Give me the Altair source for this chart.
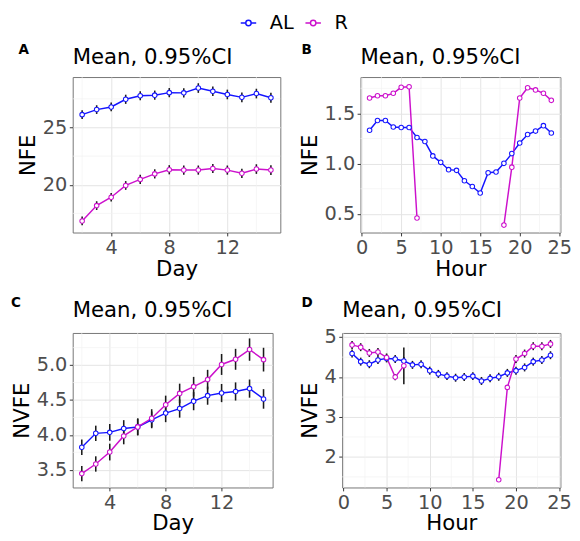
import altair as alt
import pandas as pd

FONT = "DejaVu Sans"
series_names = ["AL", "R"]
series_colors = ["#1414ff", "#cc11cc"]
letters = ["A", "B", "C", "D"]
panel_title = "Mean, 0.95%CI"

day = [2, 3, 4, 5, 6, 7, 8, 9, 10, 11, 12, 13, 14, 15]
hour = list(range(1, 25))

# Panel A: NFE by Day
a_al = [26.12, 26.56, 26.79, 27.46, 27.77, 27.82, 28.04, 28.02, 28.44, 28.16, 27.88, 27.63, 27.96, 27.60]
a_al_ci = [0.38, 0.38, 0.38, 0.40, 0.40, 0.40, 0.40, 0.40, 0.42, 0.42, 0.42, 0.42, 0.42, 0.44]
a_r = [16.84, 18.18, 18.91, 19.94, 20.47, 20.95, 21.31, 21.28, 21.28, 21.42, 21.28, 21.00, 21.37, 21.28]
a_r_ci = [0.38, 0.38, 0.38, 0.38, 0.40, 0.40, 0.40, 0.40, 0.40, 0.40, 0.40, 0.40, 0.42, 0.42]

# Panel B: NFE by Hour
b_al = [1.333, 1.430, 1.430, 1.365, 1.360, 1.360, 1.260, 1.220, 1.077, 1.013, 0.940, 0.933,
        0.830, 0.772, 0.708, 0.910, 0.917, 1.003, 1.100, 1.205, 1.290, 1.324, 1.378, 1.305]
b_al_ci = [0.015] * 24
b_r = [1.654, 1.676, 1.676, 1.700, 1.760, 1.766, 0.458, None, None, None, None, None,
       None, None, None, None, None, 0.388, 0.965, 1.654, 1.756, 1.734, 1.700, 1.630]
b_r_ci = [0.015] * 24

# Panel C: NVFE by Day
c_al = [3.823, 4.022, 4.036, 4.091, 4.114, 4.215, 4.312, 4.377, 4.483, 4.562, 4.599, 4.622, 4.663, 4.515]
c_al_ci = [0.11, 0.11, 0.12, 0.12, 0.12, 0.12, 0.13, 0.13, 0.13, 0.13, 0.13, 0.13, 0.13, 0.14]
c_r = [3.445, 3.583, 3.754, 3.985, 4.114, 4.238, 4.432, 4.594, 4.691, 4.792, 5.009, 5.083, 5.222, 5.078]
c_r_ci = [0.11, 0.11, 0.12, 0.12, 0.12, 0.13, 0.13, 0.14, 0.14, 0.14, 0.15, 0.15, 0.16, 0.17]

# Panel D: NVFE by Hour
d_al = [4.589, 4.387, 4.323, 4.427, 4.468, 4.452, 4.403, 4.306, 4.323, 4.161, 4.080, 4.024,
        3.984, 4.000, 4.024, 3.903, 3.968, 4.008, 4.105, 4.161, 4.242, 4.387, 4.427, 4.548]
d_al_ci = [0.10] * 24
d_r = [4.806, 4.750, 4.605, 4.629, 4.492, 4.000, 4.282, None, None, None, None, None,
       None, None, None, None, None, 1.427, 3.742, 4.452, 4.589, 4.774, 4.774, 4.831]
d_r_ci = [0.10, 0.10, 0.10, 0.10, 0.10, 0.08, 0.46, None, None, None, None, None,
          None, None, None, None, None, 0.02, 0.06, 0.10, 0.10, 0.10, 0.10, 0.10]

# axis ticks (major = labelled, minor = grid only)
day_major = [4, 8, 12]
day_minor = [2, 6, 10, 14]
hour_major = [0, 5, 10, 15, 20, 25]
hour_minor = [2.5, 7.5, 12.5, 17.5, 22.5]
a_y_major = [20, 25]
a_y_minor = [17.5, 22.5, 27.5]
b_y_major = [0.5, 1.0, 1.5]
b_y_minor = [0.75, 1.25, 1.75]
c_y_major = [3.5, 4.0, 4.5, 5.0]
c_y_minor = [3.75, 4.25, 4.75, 5.25]
d_y_major = [2, 3, 4, 5]
d_y_minor = [1.5, 2.5, 3.5, 4.5]


def frame(xs, al, al_ci, r, r_ci):
    rows = []
    for name, vals, cis in (("AL", al, al_ci), ("R", r, r_ci)):
        seg = 0
        prev_missing = False
        for x, v, c in zip(xs, vals, cis):
            if v is None:
                prev_missing = True
                continue
            if prev_missing:
                seg += 1
                prev_missing = False
            rows.append({"x": x, "y": v, "lo": v - c, "hi": v + c,
                         "series": name, "seg": f"{name}{seg}"})
    return pd.DataFrame(rows)


legend = alt.Legend(
    orient="none", legendX=172, legendY=-66, direction="horizontal", title=None,
    symbolType="M-1,0L-0.35,0M0.35,0L1,0M-0.35,0A0.35,0.35,0,1,1,0.35,0A0.35,0.35,0,1,1,-0.35,0",
    symbolSize=256, symbolStrokeWidth=1.5, labelFontSize=20, labelColor="black",
    labelFont=FONT, labelOffset=12, columnPadding=9, padding=0,
)
color = alt.Color("series:N", scale=alt.Scale(domain=series_names, range=series_colors),
                  legend=legend)


def axis(majors, fmt, title_pad):
    return alt.Axis(values=majors, format=fmt, gridColor="#e3e3e3", gridWidth=1,
                    labelOverlap=False, labelFlush=False, titlePadding=title_pad)


def panel(df, letter, xtitle, ytitle, xdom, ydom, xmaj, xmin, ymaj, ymin, xfmt, yfmt,
          w, h, ldx, ldy, tdy):
    x = alt.X("x:Q", title=xtitle, scale=alt.Scale(domain=xdom, nice=False, zero=False),
              axis=axis(xmaj, xfmt, 1))
    y = alt.Y("y:Q", title=ytitle, scale=alt.Scale(domain=ydom, nice=False, zero=False),
              axis=axis(ymaj, yfmt, 3))
    gx = alt.Chart(pd.DataFrame({"x": xmin})).mark_rule(
        color="#f1f1f1", strokeWidth=0.7).encode(x=x)
    gy = alt.Chart(pd.DataFrame({"y": ymin})).mark_rule(
        color="#f1f1f1", strokeWidth=0.7).encode(y=y)
    base = alt.Chart(df)
    line = base.mark_line(strokeWidth=1.5).encode(x=x, y=y, color=color, detail="seg:N")
    bars = base.mark_rule(color="#1a1a1a", strokeWidth=1.6).encode(x=x, y="lo:Q", y2="hi:Q")
    pts = base.mark_point(shape="circle", filled=False, fill="white", fillOpacity=1,
                          size=22, strokeWidth=1.1, opacity=1).encode(x=x, y=y, color=color)
    lab = alt.Chart(pd.DataFrame({"t": [letter]})).mark_text(
        align="left", baseline="middle", fontSize=14, fontWeight="bold", font=FONT,
        color="black").encode(text="t:N", x=alt.value(ldx), y=alt.value(ldy))
    return alt.layer(gx, gy, line, bars, pts, lab).properties(
        width=w, height=h,
        title=alt.TitleParams(panel_title, anchor="start", frame="group", fontSize=22,
                              fontWeight="normal", font=FONT, color="black", offset=0, dy=tdy),
    )


dfA = frame(day, a_al, a_al_ci, a_r, a_r_ci)
dfB = frame(hour, b_al, b_al_ci, b_r, b_r_ci)
dfC = frame(day, c_al, c_al_ci, c_r, c_r_ci)
dfD = frame(hour, d_al, d_al_ci, d_r, d_r_ci)

pA = panel(dfA, letters[0], "Day", "NFE", [1.35, 15.65], [15.83, 29.4],
           day_major, day_minor, a_y_major, a_y_minor, "d", "d", 215, 161, -56, -28, 26)
pB = panel(dfB, letters[1], "Hour", "NFE", [-0.15, 25.15], [0.314, 1.862],
           hour_major, hour_minor, b_y_major, b_y_minor, "d", ".1f", 207, 161, -61, -28, 26)
pC = panel(dfC, letters[2], "Day", "NVFE", [1.35, 15.65], [3.246, 5.46],
           day_major, day_minor, c_y_major, c_y_minor, "d", ".1f", 207, 160, -64, -31, 26)
pD = panel(dfD, letters[3], "Hour", "NVFE", [-0.15, 25.15], [1.234, 5.105],
           hour_major, hour_minor, d_y_major, d_y_minor, "d", "d", 226, 160, -42, -31, 26)

chart = alt.concat(
    pA, pB, pC, pD,
    columns=2, align={"row": "all", "column": "none"}, spacing={"row": 16, "column": 17},
).properties(
    padding={"left": 2, "top": -4, "right": 0, "bottom": 0}
).configure_axis(
    labelFontSize=20, labelColor="#4d4d4d", labelFont=FONT, labelPadding=2.5,
    titleFontSize=22, titleColor="black", titleFont=FONT, titleFontWeight="normal",
    tickColor="#333333", tickSize=3.5, tickWidth=1, domain=False, minExtent=0,
).configure_view(
    stroke="#737373", strokeWidth=1
).configure_scale(
    continuousPadding=0
)

chart.save("out.html", embed_options={"renderer": "svg", "actions": False})
